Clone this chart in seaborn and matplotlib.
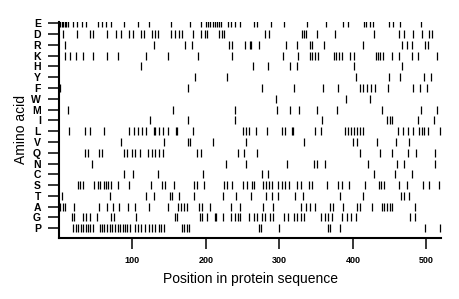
import numpy as np
import pandas as pd
import seaborn as sns
import matplotlib
matplotlib.use("Agg")
import matplotlib.pyplot as plt

# amino acids, top to bottom
amino_acids = ["E", "D", "R", "K", "H", "Y", "F", "W", "M", "I",
               "L", "V", "Q", "N", "C", "S", "T", "A", "G", "P"]

pos_E = [2, 4, 6, 8, 10, 12, 19, 25, 31, 37, 53, 58, 64, 71, 89, 108, 123, 152, 179, 193,
         200, 203, 206, 209, 212, 215, 218, 221, 230, 234, 240, 246, 265, 270, 289, 306,
         338, 364, 386, 393, 415, 418, 423, 427, 449, 455, 464, 493]
pos_D = [6, 24, 43, 47, 65, 78, 84, 96, 101, 112, 116, 126, 131, 135, 153, 158, 164, 167,
         183, 194, 199, 202, 218, 222, 225, 281, 286, 331, 334, 336, 351, 376, 429, 462,
         470, 482, 494, 503, 508]
pos_R = [9, 130, 171, 181, 231, 235, 253, 260, 262, 272, 309, 324, 342, 344, 360, 414,
         467, 474, 481, 498, 502]
pos_K = [8, 15, 23, 33, 47, 65, 80, 119, 148, 189, 235, 305, 325, 342, 345, 349, 353, 374,
         377, 381, 385, 396, 401, 431, 434, 437, 441, 453, 463, 481, 489, 514]
pos_H = [112, 264, 284, 315, 324, 401, 467]
pos_Y = [185, 229, 404, 449, 464, 497, 506]
pos_F = [1, 175, 276, 320, 359, 380, 410, 414, 419, 424, 430, 448, 482, 491, 501]
pos_W = [295, 391, 423]
pos_M = [13, 155, 239, 297, 314, 326, 351, 379, 440, 493, 515]
pos_I = [124, 176, 240, 358, 446, 450, 453, 488, 510]
pos_L = [14, 36, 42, 62, 96, 102, 107, 113, 119, 130, 131, 136, 142, 148, 159, 161, 182,
         250, 254, 259, 268, 283, 303, 307, 317, 319, 349, 356, 389, 393, 397, 401, 405,
         410, 414, 461, 468, 475, 482, 490, 494, 497, 502, 518]
pos_V = [85, 143, 175, 179, 210, 255, 334, 400, 405, 433, 458, 476]
pos_Q = [36, 40, 54, 59, 88, 93, 99, 104, 110, 121, 126, 131, 136, 141, 188, 193, 244,
         252, 270, 410, 437, 453, 475, 486, 512]
pos_N = [45, 228, 255, 310, 347, 351, 362, 421, 460, 470, 511]
pos_C = [89, 101, 135, 196, 276, 284, 428, 457, 480]
pos_S = [26, 29, 33, 48, 53, 56, 61, 64, 67, 71, 81, 96, 125, 140, 144, 156, 184, 188,
         197, 224, 229, 236, 251, 256, 263, 266, 277, 282, 286, 290, 298, 304, 308, 313,
         324, 329, 340, 344, 365, 380, 385, 394, 417, 435, 438, 442, 463, 474, 496, 503, 517]
pos_T = [4, 70, 118, 129, 151, 154, 164, 184, 223, 241, 262, 282, 290, 298, 321, 332,
         383, 414, 465, 470, 476]
pos_A = [2, 6, 9, 20, 55, 65, 74, 82, 94, 104, 122, 148, 162, 166, 170, 174, 191, 195,
         205, 234, 247, 278, 291, 330, 336, 342, 349, 369, 373, 387, 405, 409, 426, 439,
         442, 446, 450, 453, 484]
pos_G = [18, 21, 33, 37, 42, 52, 71, 75, 105, 158, 161, 192, 195, 201, 212, 214, 223,
         234, 240, 244, 247, 258, 265, 270, 276, 281, 287, 291, 306, 311, 320, 324, 329,
         333, 356, 362, 366, 371, 385, 392, 397, 404, 478, 484]
pos_P = [19, 23, 26, 30, 33, 37, 40, 43, 47, 56, 59, 62, 66, 69, 72, 76, 80, 83, 87, 90,
         93, 97, 104, 108, 112, 117, 122, 127, 131, 136, 139, 143, 167, 170, 174, 177, 272,
         275, 299, 366, 369, 383, 498, 518]

x_ticks = [100, 200, 300, 400, 500]
seq_length = 520

positions = [pos_E, pos_D, pos_R, pos_K, pos_H, pos_Y, pos_F, pos_W, pos_M, pos_I,
             pos_L, pos_V, pos_Q, pos_N, pos_C, pos_S, pos_T, pos_A, pos_G, pos_P]

rows = []
for i, (aa, plist) in enumerate(zip(amino_acids, positions)):
    for p in plist:
        rows.append({"aa": aa, "row": i, "pos": p})
df = pd.DataFrame(rows)

sns.set_style("white")
plt.rcParams["font.family"] = ["Liberation Sans", "DejaVu Sans"]
plt.rcParams["text.color"] = "black"
plt.rcParams["axes.labelcolor"] = "black"
plt.rcParams["xtick.color"] = "black"
plt.rcParams["ytick.color"] = "black"

fig = plt.figure(figsize=(4.6, 2.99), dpi=100)
ax = fig.add_axes([0.128, 0.204, 0.831, 0.724])

sns.scatterplot(data=df, x="pos", y="row", marker="|", s=28, color="black",
                linewidth=0.9, ax=ax, legend=False)

ax.set_xlim(0, seq_length)
ax.set_ylim(19.9, -0.15)
ax.set_yticks(range(len(amino_acids)))
ax.set_yticklabels(amino_acids, fontsize=7.5, fontweight="bold")
ax.set_xticks(x_ticks)
ax.set_xticklabels([str(t) for t in x_ticks], fontsize=6.5, fontweight="bold")
ax.tick_params(axis="both", which="major", direction="out", length=8, width=1.1,
               colors="black", bottom=True, left=True, top=False, right=False)
ax.tick_params(axis="x", pad=5)
ax.tick_params(axis="y", pad=5)

for side in ["top", "right"]:
    ax.spines[side].set_visible(False)
for side in ["left", "bottom"]:
    ax.spines[side].set_linewidth(1.5)
    ax.spines[side].set_color("black")

ax.set_xlabel("Position in protein sequence", fontsize=10, labelpad=5)
ax.set_ylabel("Amino acid", fontsize=10, labelpad=2)

fig.savefig("out.png", dpi=100)
